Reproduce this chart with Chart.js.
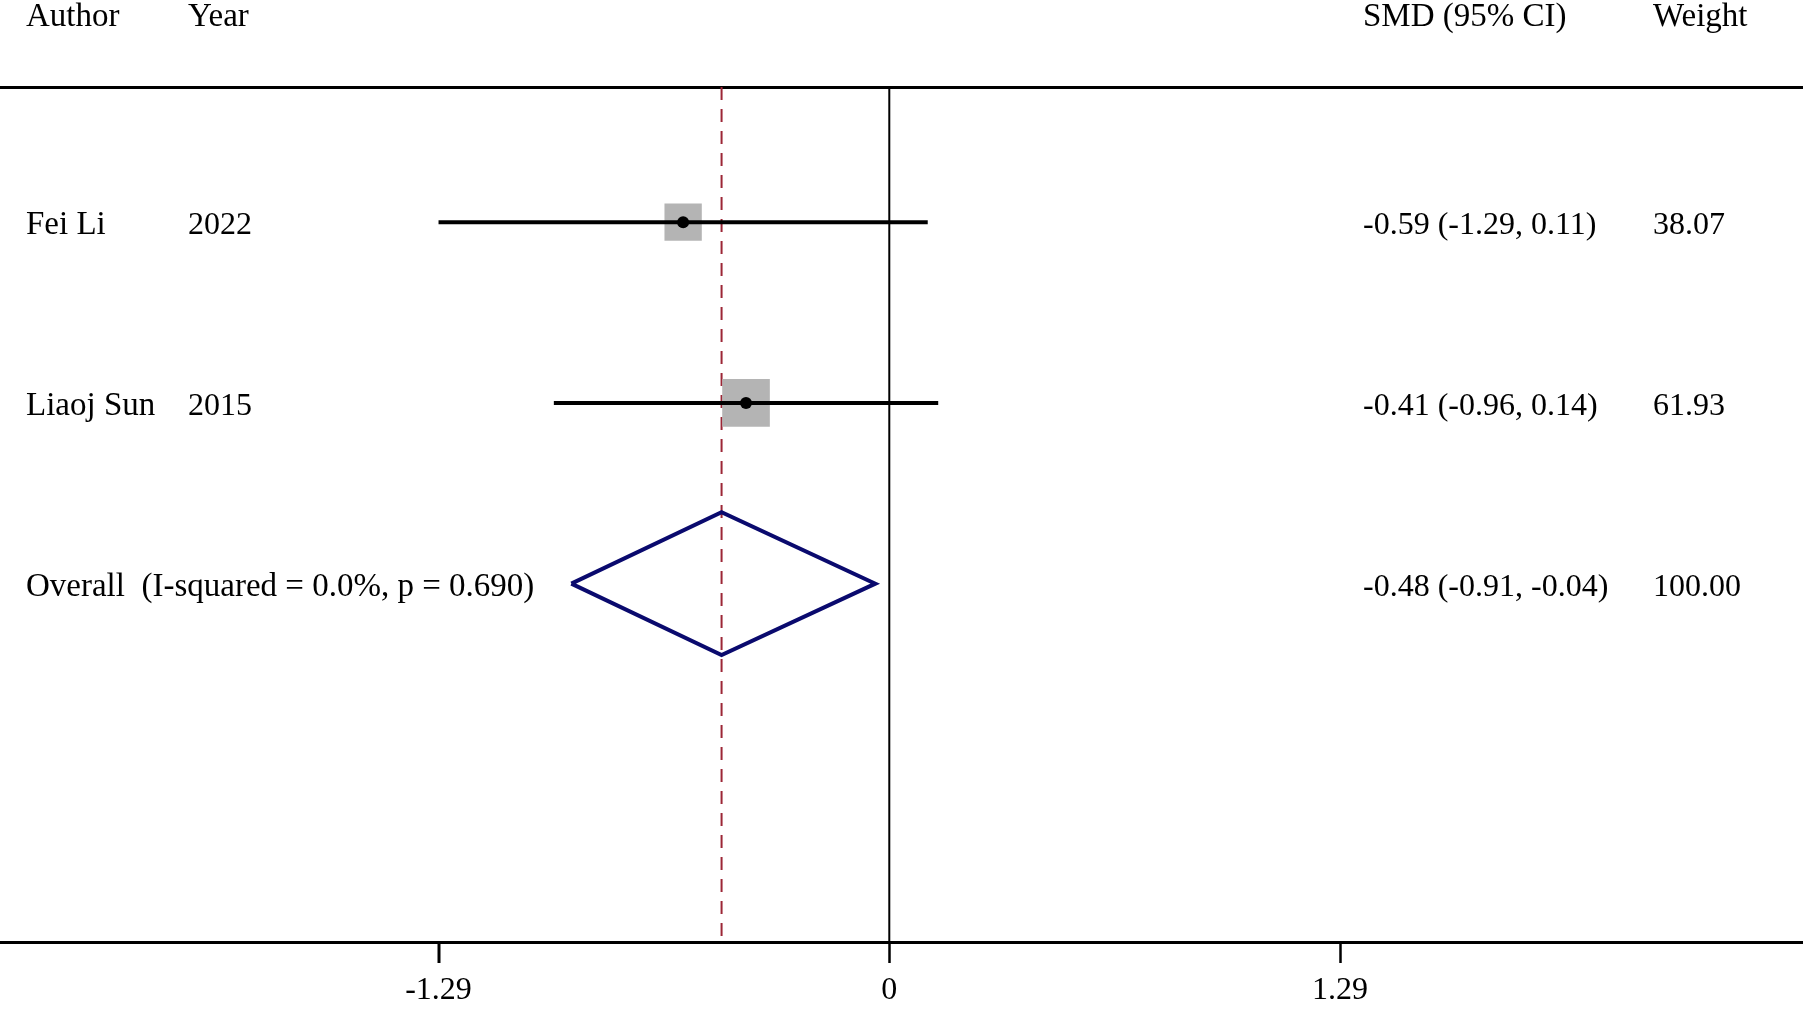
<!DOCTYPE html>
<html>
<head>
<meta charset="utf-8">
<title>Forest plot</title>
<script src="https://cdn.jsdelivr.net/npm/chart.js@4.4.1/dist/chart.umd.min.js"></script>
<style>
  html, body { margin: 0; padding: 0; background: #fff; overflow: hidden; }
  #wrap { width: 1805px; height: 1009px; position: relative; }
</style>
</head>
<body>
<div id="wrap"><canvas id="forestChart"></canvas></div>
<script>
// Study rows
const authors = ['Fei Li', 'Liaoj Sun'];
const years = ['2022', '2015'];
const smd = [-0.59, -0.41];
const ciLow = [-1.29, -0.96];
const ciHigh = [0.11, 0.14];
const weights = [38.07, 61.93];

// Pooled estimate
const overallLabel = 'Overall  (I-squared = 0.0%, p = 0.690)';
const overallSmd = -0.48;
const overallLow = -0.91;
const overallHigh = -0.04;
const overallWeight = 100.00;

// Axis tick labels
const xTicks = [-1.29, 0, 1.29];

const FONT = "'Liberation Serif', 'Times New Roman', serif";
const X_MIN = -2.545, X_MAX = 2.612;
const Y_MIN = 0.252, Y_MAX = 4.983;
const overallRow = authors.length + 1;
const fmt = v => v.toFixed(2);

// CI whiskers, one dataset per study
const whiskers = authors.map((a, i) => ({
    label: a + ' CI',
    data: [{x: ciLow[i], y: i + 1}, {x: ciHigh[i], y: i + 1}],
    showLine: true,
    borderColor: '#000',
    borderWidth: 4,
    pointRadius: 0,
    order: 3
}));

const datasets = [
    // line of no effect
    {
        label: 'zero',
        data: [{x: 0, y: Y_MIN}, {x: 0, y: Y_MAX}],
        showLine: true, borderColor: '#000', borderWidth: 2, pointRadius: 0, order: 6
    },
    // pooled estimate reference
    {
        label: 'overall line',
        data: [{x: overallSmd, y: Y_MIN}, {x: overallSmd, y: Y_MAX}],
        showLine: true, borderColor: '#9c2636', borderWidth: 2, borderDash: [13, 9],
        pointRadius: 0, order: 5
    },
    // weight boxes
    {
        label: 'weights',
        data: smd.map((v, i) => ({x: v, y: i + 1})),
        pointStyle: 'rect',
        pointRadius: weights.map(w => 6.05 * Math.sqrt(w) / Math.SQRT2),
        backgroundColor: '#b4b4b4',
        pointBorderWidth: 0,
        order: 4
    },
    ...whiskers,
    // point estimates
    {
        label: 'estimates',
        data: smd.map((v, i) => ({x: v, y: i + 1})),
        pointStyle: 'circle',
        pointRadius: 6,
        backgroundColor: '#000',
        pointBorderWidth: 0,
        order: 2
    },
    // pooled diamond
    {
        label: 'diamond',
        data: [
            {x: overallLow, y: overallRow},
            {x: overallSmd, y: overallRow - 0.395},
            {x: overallHigh, y: overallRow},
            {x: overallSmd, y: overallRow + 0.395},
            {x: overallLow, y: overallRow}
        ],
        showLine: true, borderColor: '#0a0a6e', borderWidth: 4, pointRadius: 0,
        borderJoinStyle: 'miter', order: 1
    }
];

// Table text around the plot, plus tick marks under the axis
const textColumns = {
    id: 'textColumns',
    afterDraw(chart) {
        const ctx = chart.ctx;
        const ys = chart.scales.y;
        const xs = chart.scales.x;
        ctx.save();

        ctx.strokeStyle = '#000';
        ctx.lineWidth = 2;
        xs.ticks.forEach((t, i) => {
            const px = Math.round(xs.getPixelForTick(i)) + 0.5;
            ctx.beginPath();
            ctx.moveTo(px, chart.chartArea.bottom);
            ctx.lineTo(px, chart.chartArea.bottom + 21);
            ctx.stroke();
        });

        ctx.fillStyle = '#000';
        ctx.textBaseline = 'alphabetic';
        ctx.textAlign = 'left';
        const word = '33px ' + FONT;
        const num = '32px ' + FONT;

        ctx.font = word;
        ctx.fillText('Author', 26, 26);
        ctx.fillText('Year', 188, 26);
        ctx.fillText('SMD (95% CI)', 1363, 26);
        ctx.fillText('Weight', 1653, 26);

        authors.forEach((a, i) => {
            const y = ys.getPixelForValue(i + 1) + 12;
            ctx.font = word;
            ctx.fillText(a, 26, y);
            ctx.font = num;
            ctx.fillText(years[i], 188, y);
            ctx.fillText(fmt(smd[i]) + ' (' + fmt(ciLow[i]) + ', ' + fmt(ciHigh[i]) + ')', 1363, y);
            ctx.fillText(fmt(weights[i]), 1653, y);
        });

        const yo = ys.getPixelForValue(overallRow) + 12;
        ctx.font = word;
        ctx.fillText(overallLabel, 26, yo);
        ctx.font = num;
        ctx.fillText(fmt(overallSmd) + ' (' + fmt(overallLow) + ', ' + fmt(overallHigh) + ')', 1363, yo);
        ctx.fillText(fmt(overallWeight), 1653, yo);
        ctx.restore();
    }
};

const config = {
    type: 'scatter',
    data: { datasets: datasets },
    options: {
        responsive: true,
        maintainAspectRatio: false,
        animation: false,
        layout: { autoPadding: false, padding: { top: 87, bottom: -10, left: 0, right: 3 } },
        plugins: { legend: { display: false }, tooltip: { enabled: false } },
        scales: {
            x: {
                type: 'linear',
                position: 'bottom',
                min: X_MIN,
                max: X_MAX,
                afterBuildTicks: scale => { scale.ticks = xTicks.map(v => ({value: v})); },
                afterFit: scale => { scale.paddingLeft = 0; scale.paddingRight = 0; },
                ticks: {
                    autoSkip: false,
                    maxRotation: 0,
                    padding: 12,
                    color: '#000',
                    font: { family: FONT, size: 32, lineHeight: 1 },
                    callback: v => (v === 0 ? '0' : v.toFixed(2))
                },
                grid: {
                    drawOnChartArea: false,
                    drawTicks: true,
                    tickLength: 21,
                    tickWidth: 2,
                    tickColor: '#000'
                },
                border: { display: true, color: '#000', width: 3 }
            },
            xTop: {
                type: 'linear',
                position: 'top',
                min: X_MIN,
                max: X_MAX,
                ticks: { display: false },
                grid: { display: false, drawTicks: false },
                border: { display: true, color: '#000', width: 3 }
            },
            y: {
                type: 'linear',
                display: false,
                reverse: true,
                min: Y_MIN,
                max: Y_MAX
            }
        }
    },
    plugins: [textColumns]
};

const ctx = document.getElementById('forestChart').getContext('2d');
const forestChart = new Chart(ctx, config);
</script>
</body>
</html>
